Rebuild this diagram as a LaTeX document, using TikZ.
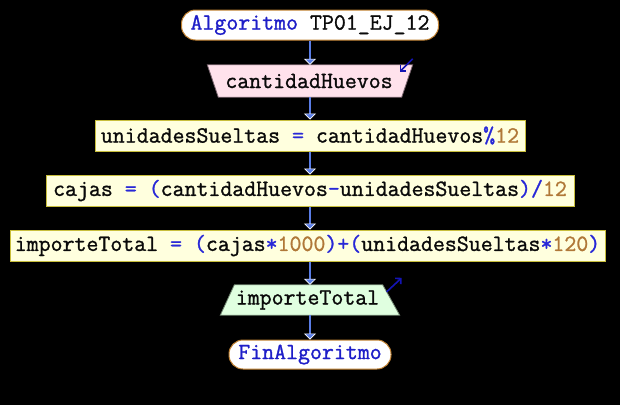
\documentclass[tikz,border=0pt]{standalone}
\usepackage{fontspec}
\newfontfamily\psmono[FakeBold=1.2]{Latin Modern Mono}
\usetikzlibrary{arrows.meta}
\pgfdeclarelayer{bg}
\pgfsetlayers{bg,main}
\definecolor{idcol}{RGB}{10,10,10}
\definecolor{kwcol}{RGB}{30,30,200}
\definecolor{opcol}{RGB}{40,40,215}
\definecolor{numcol}{RGB}{176,120,56}
\definecolor{termborder}{RGB}{192,128,48}
\definecolor{infill}{RGB}{255,226,236}
\definecolor{inborder}{RGB}{120,100,110}
\definecolor{asgfill}{RGB}{255,255,222}
\definecolor{asgborder}{RGB}{200,190,60}
\definecolor{outfill}{RGB}{224,255,224}
\definecolor{outborder}{RGB}{110,130,110}
\definecolor{flowcol}{RGB}{90,125,230}
\definecolor{iocol}{RGB}{20,20,180}
\newcommand\kwd[1]{\textcolor{kwcol}{#1}}
\newcommand\opr[1]{\textcolor{opcol}{#1}}
\newcommand\nmb[1]{\textcolor{numcol}{#1}}
\tikzset{
  every node/.style={font=\psmono\fontsize{23.2}{25}\selectfont, text=idcol, inner sep=0pt},
  termbox/.style={draw=termborder, fill=white, rounded corners=14pt, line width=1pt},
  assignbox/.style={draw=asgborder, fill=asgfill, line width=1pt, minimum height=31pt},
  iobox/.style={minimum height=#1},
  flow/.style={draw=flowcol, line width=2pt, -{Triangle[width=12pt,length=6pt,line width=0.6pt,fill=flowcol,color=white]}},
  ioarrow/.style={draw=iocol, line width=1.6pt, -{Straight Barb[length=4pt,width=8pt]}}
}
\begin{document}
\begin{tikzpicture}[x=1pt,y=-1pt]
\begin{pgfonlayer}{bg}
\fill[black] (0,0) rectangle (620,405);
\end{pgfonlayer}
\useasboundingbox (0,0) rectangle (620,405);

\node[termbox, minimum width=257pt, minimum height=30pt] (start) at (310,25) {\kwd{Algoritmo} TP01\_EJ\_12};

\node[iobox=32pt, minimum width=205pt] (in) at (310,81) {\hspace*{-2pt}cantidadHuevos};
\begin{pgfonlayer}{bg}
\filldraw[fill=infill, draw=inborder, line width=0.8pt] (in.north west) -- (in.north east) -- ([xshift=-11pt]in.south east) -- ([xshift=11pt]in.south west) -- cycle;
\end{pgfonlayer}

\node[assignbox, minimum width=430pt] (a1) at (310,135.5) {unidadesSueltas \opr{=} cantidadHuevos\opr{\%}\nmb{12}};
\node[assignbox, minimum width=528pt] (a2) at (310,190.5) {cajas \opr{=} \opr{(}cantidadHuevos\opr{-}unidadesSueltas\opr{)/}\nmb{12}};
\node[assignbox, minimum width=595pt] (a3) at (307.5,245.5) {importeTotal \opr{=} \opr{(}cajas\opr{*}\nmb{1000}\opr{)+(}unidadesSueltas\opr{*}\nmb{120}\opr{)}};

\node[iobox=30pt, minimum width=179pt] (out) at (310,300) {\hspace*{-5pt}importeTotal};
\begin{pgfonlayer}{bg}
\filldraw[fill=outfill, draw=outborder, line width=0.8pt] ([xshift=14pt]out.north west) -- ([xshift=-17pt]out.north east) -- (out.south east) -- (out.south west) -- cycle;
\end{pgfonlayer}

\node[termbox, minimum width=162pt, minimum height=29pt] (end) at (310,354.5) {\kwd{FinAlgoritmo}};

\draw[flow] (start.south) -- (in.north);
\draw[flow] (in.south) -- (a1.north);
\draw[flow] (a1.south) -- (a2.north);
\draw[flow] (a2.south) -- (a2.south |- a3.north);
\draw[flow] (a3.south -| out.north) -- (out.north);
\draw[flow] (out.south) -- (end.north);

\coordinate (inA) at ([shift={(0,-6)}]in.north east);
\coordinate (inB) at ([shift={(-13,7)}]in.north east);
\draw[ioarrow] (inA) -- (inB);
\coordinate (outA) at ([shift={(-13,7)}]out.north east);
\coordinate (outB) at ([shift={(2,-7)}]out.north east);
\draw[ioarrow] (outA) -- (outB);
\end{tikzpicture}
\end{document}
